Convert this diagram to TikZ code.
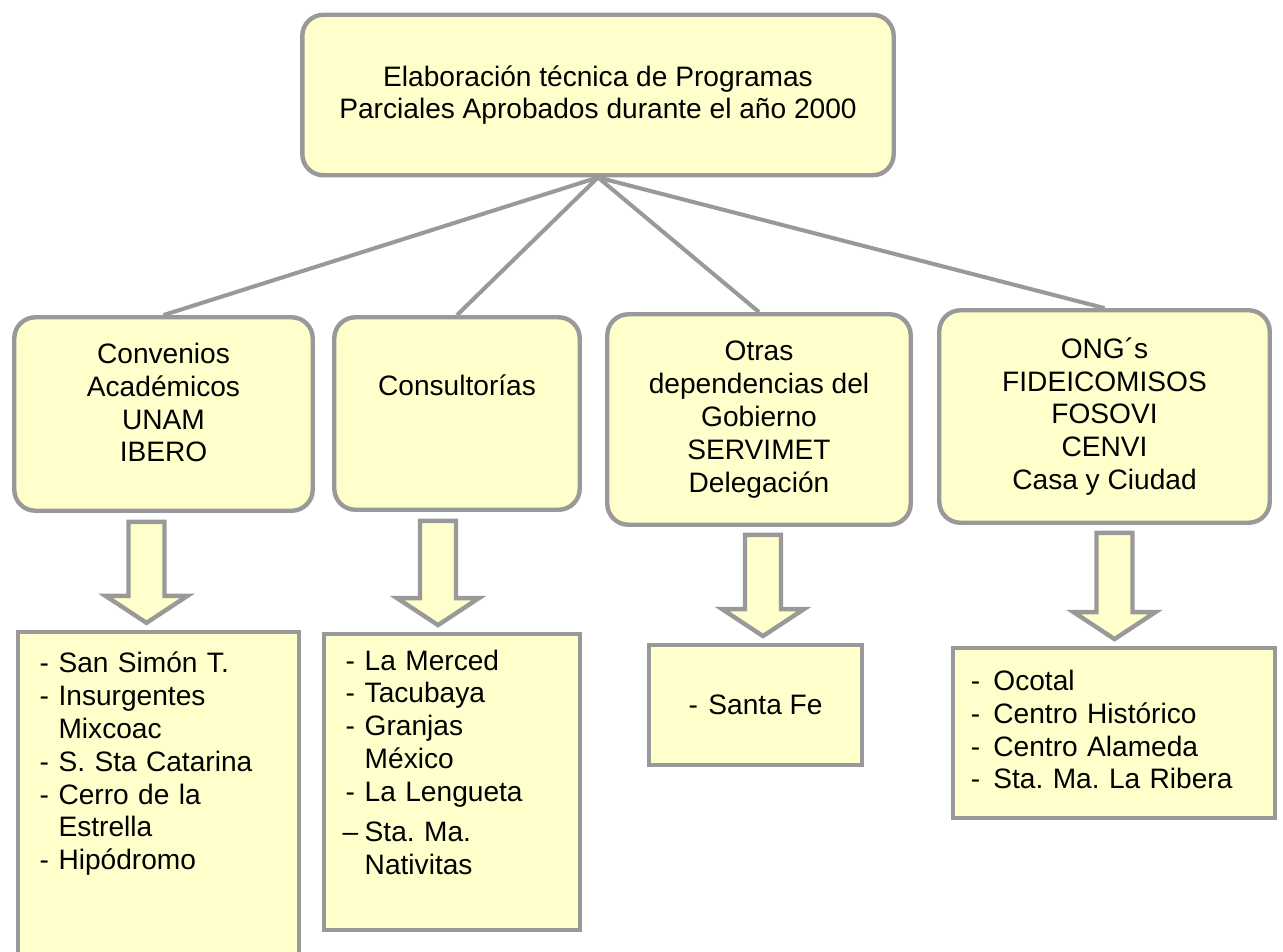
\documentclass[tikz,border=0pt]{standalone}
\usepackage{fontspec}
\setmainfont{Liberation Sans}
\usetikzlibrary{calc}
\definecolor{boxfill}{HTML}{FFFFCC}
\definecolor{boxline}{HTML}{999999}
\frenchspacing

\begin{document}
\begin{tikzpicture}[x=0.02cm,y=-0.02cm,
roundnode/.style={rectangle, rounded corners=12pt, draw=boxline, fill=boxfill, line width=2.5pt, align=center, font=\fontsize{16}{18.7}\selectfont},
squarenode/.style={rectangle, draw=boxline, fill=boxfill, line width=2.5pt, align=left, font=\fontsize{16}{18.7}\selectfont},
link/.style={draw=boxline, line width=2.3pt},
blockarrow/.style={draw=boxline, fill=boxfill, line width=2.5pt, line join=miter},
]
\useasboundingbox (0,0) rectangle (1283,951);

%Nodes
\node[roundnode, minimum width=11.83cm, minimum height=3.21cm](top) at (598,95){Elaboración técnica de Programas\\Parciales Aprobados durante el año 2000};

\node[roundnode, minimum width=5.97cm, minimum height=3.87cm](conv) at (163.5,414){Convenios\\Académicos\\UNAM\\IBERO\\[-5.5pt]\mbox{}};

\node[roundnode, minimum width=4.91cm, minimum height=3.85cm](cons) at (457,413.5){Consultorías\\[14pt]\mbox{}};

\node[roundnode, minimum width=6.07cm, minimum height=4.21cm](otras) at (759,419.5){Otras\\dependencias del\\Gobierno\\SERVIMET\\Delegación};

\node[roundnode, minimum width=6.61cm, minimum height=4.25cm](ong) at (1104.5,416.5){ONG´s\\FIDEICOMISOS\\FOSOVI\\CENVI\\Casa y Ciudad};

\node[squarenode, text width=135.4pt, inner xsep=12.4pt, minimum height=6.62cm](lst1) at (158.5,797.5){%
\begin{tabular}{@{}l@{\hspace{5.5pt}}l@{}}
- & San Simón T.\\
- & Insurgentes\\
  & Mixcoac\\
- & S. Sta Catarina\\
- & Cerro de la\\
  & Estrella\\
- & Hipódromo\\
  & \\
  & \\
\end{tabular}};

\node[squarenode, text width=121pt, inner xsep=12.5pt, minimum height=5.91cm](lst2) at (452,782){%
\begin{tabular}{@{}l@{\hspace{5.5pt}}l@{}}
- & La Merced\\
- & Tacubaya\\
- & Granjas\\
  & México\\
- & La Lengueta\\[4pt]
\makebox[5.3pt][c]{–} & Sta. Ma.\\
  & Nativitas\\
  & \\
\end{tabular}};

\node[squarenode, align=center, minimum width=4.25cm, minimum height=2.39cm](lst3) at (755.5,705){-\hspace{6pt}Santa Fe};

\node[squarenode, text width=162.9pt, inner xsep=10.3pt, minimum height=3.39cm](lst4) at (1114,733){%
\begin{tabular}{@{}l@{\hspace{7.5pt}}l@{}}
- & Ocotal\\
- & Centro Histórico\\
- & Centro Alameda\\
- & Sta. Ma. La Ribera\\
\end{tabular}};

%Lines
\draw[link] (top.south) -- (conv.north);
\draw[link] (top.south) -- (cons.north);
\draw[link] (top.south) -- (otras.north);
\draw[link] (top.south) -- (ong.north);

%Block arrows
\foreach \a/\b/\dx/\dy in {conv/lst1/-17/9, cons/lst2/-19/9, otras/lst3/4/8, ong/lst4/10/8}{
  \coordinate (s) at ($(\a.south)+(\dx,\dy)$);
  \coordinate (t) at ($(s |- \b.north)+(0,-7)$);
  \draw[blockarrow] ($(s)+(-18,0)$) -- ($(s)+(18,0)$) -- ($(t)+(18,-27)$) -- ($(t)+(41,-27)$) -- (t) -- ($(t)+(-41,-27)$) -- ($(t)+(-18,-27)$) -- cycle;
}

\end{tikzpicture}
\end{document}
